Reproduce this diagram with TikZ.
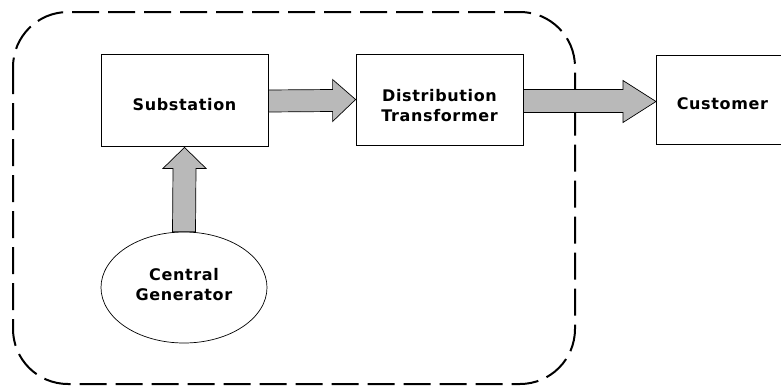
\documentclass[tikz,border=0pt]{standalone}
\usepackage{fontspec}
\setmainfont{DejaVu Sans}
\newfontfamily\boxfont[LetterSpace=4]{DejaVu Sans Bold}
\usetikzlibrary{calc,shapes.geometric}
\begin{document}
\begin{tikzpicture}[x=1pt,y=-1pt,
  textlab/.style={inner sep=0pt,align=center,font=\boxfont\fontsize{16}{20}\selectfont},
  blockbox/.style={draw=black,line width=0.8pt,fill=white,inner sep=0pt},
  genshape/.style={ellipse,draw=black,line width=0.7pt,inner sep=0pt,minimum width=166pt,minimum height=111pt},
  fatarrow/.style={draw=black,line width=0.7pt,fill=gray!55},
  boundary/.style={draw=black,line width=2pt,dash pattern=on 27pt off 9pt,rounded corners=55pt}]
\useasboundingbox (0,0) rectangle (781,386);
\draw[boundary] (13,12) rectangle (575,384);
\node[blockbox,minimum width=167pt,minimum height=92pt,
  label={[textlab,yshift=-5pt]center:Substation}] (sub) at (184.5,100) {};
\node[blockbox,minimum width=167pt,minimum height=91pt,
  label={[textlab,yshift=-6pt]center:Distribution\\Transformer}] (dt) at (439.5,99.5) {};
\node[blockbox,minimum width=133pt,minimum height=89pt,anchor=west,
  label={[textlab,yshift=-4pt,xshift=-0.5pt]center:Customer}] (cust) at (656,99.5) {};
\node[genshape,label={[textlab,yshift=3pt]center:Central\\Generator}] (gen) at (184,287.5) {};
% arrow substation -> distribution transformer
\draw[fatarrow] ($(sub.east)+(0,-10)$) -- ($(dt.west)+(-23,-10)$) -- ($(dt.west)+(-23,-20)$)
  -- (dt.west) -- ($(dt.west)+(-23,22)$) -- ($(dt.west)+(-23,12)$) -- ($(sub.east)+(0,12)$) -- cycle;
% arrow distribution transformer -> customer
\draw[fatarrow] ($(dt.east)+(0,-10)$) -- ($(cust.west)+(-33,-10)$) -- ($(cust.west)+(-33,-19)$)
  -- ($(cust.west)+(0,2)$) -- ($(cust.west)+(-33,23)$) -- ($(cust.west)+(-33,13)$) -- ($(dt.east)+(0,13)$) -- cycle;
% arrow generator -> substation
\draw[fatarrow] ($(gen.north)+(-11.5,0)$) -- ($(sub.south)+(-11.5,22)$) -- ($(sub.south)+(-21.5,22)$)
  -- ($(sub.south)+(0,1)$) -- ($(sub.south)+(21.5,22)$) -- ($(sub.south)+(11.5,22)$) -- ($(gen.north)+(11.5,0)$) -- cycle;
\end{tikzpicture}
\end{document}
